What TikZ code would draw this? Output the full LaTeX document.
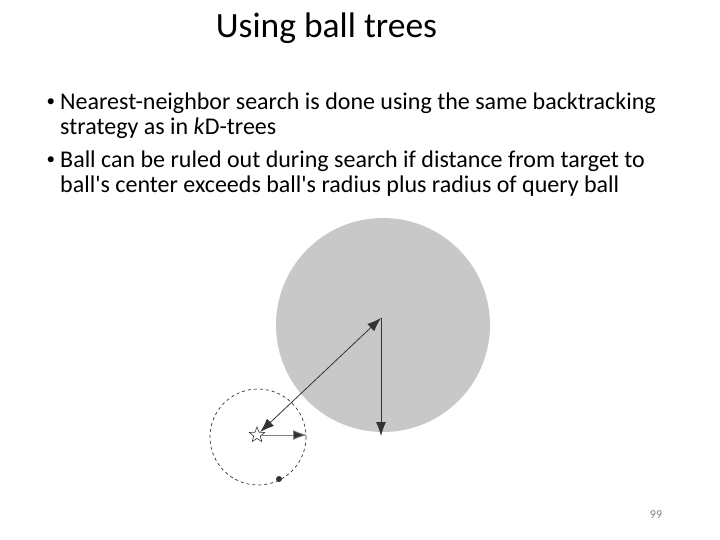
\documentclass[tikz,border=0pt]{standalone}
\usepackage{fontspec}
\setmainfont{Carlito}
\usepackage{tikz}
\usetikzlibrary{shapes.geometric, arrows.meta, positioning, calc}
\definecolor{ballgray}{HTML}{C8C8C8}
\definecolor{linegray}{HTML}{333333}

\begin{document}
\begin{tikzpicture}[x=1pt, y=-1pt,
    txt/.style={anchor=base west, inner sep=0pt, font=\fontsize{24}{28}\selectfont},
    dot/.style={anchor=base west, inner sep=0pt, font=\fontsize{17}{20}\selectfont},
    tip/.style={-{Latex[length=14pt, width=10pt]}},
    vec/.style={draw=linegray, line width=0.8pt, tip}]
    \useasboundingbox (0,0) rectangle (720,540);

    % Title
    \node[anchor=base, inner sep=0pt, font=\fontsize{35.5}{40}\selectfont] (title) at (326.5, 38) {Using ball trees};

    % Bullets
    \node[dot] (b1) at (46.5, 107) {\textbullet};
    \node[txt] (l1) at (60, 110) {Nearest-neighbor search is done using the same backtracking};
    \node[txt] (l2) at (60, 135) {strategy as in \textit{k}D-trees};
    \node[dot] (b2) at (46.5, 165) {\textbullet};
    \node[txt] (l3) at (60, 168) {Ball can be ruled out during search if distance from target to};
    \node[txt] (l4) at (60, 193) {ball\textquotesingle s center exceeds ball\textquotesingle s radius plus radius of query ball};

    % Ball and query ball
    \fill[ballgray] (383, 325) circle (107);
    \draw[linegray, dashed, line width=0.7pt] (258, 437) circle (48);

    \coordinate (ctr) at (381, 318);
    \coordinate (rim) at (381, 436);
    \coordinate (qrim) at (307, 435);
    \node[star, star points=5, star point ratio=2.3, draw=linegray, fill=white, line width=0.6pt,
          minimum size=16pt, inner sep=0pt] (target) at (257, 435) {};
    \node[circle, fill=linegray, inner sep=0pt, minimum size=6pt] (pt) at (279, 479) {};

    \draw[vec, {Latex[length=14pt, width=10pt]}-{Latex[length=14pt, width=10pt]}] (target) -- (ctr);
    \draw[vec] (ctr) -- (rim);
    \draw[vec, draw=gray, -{Latex[length=14pt, width=10pt, fill=linegray]}] (target) -- (qrim);

    % Page number
    \node[anchor=base, inner sep=0pt, font=\fontsize{12}{14}\selectfont, text=gray] (page) at (656, 518) {99};
\end{tikzpicture}
\end{document}
